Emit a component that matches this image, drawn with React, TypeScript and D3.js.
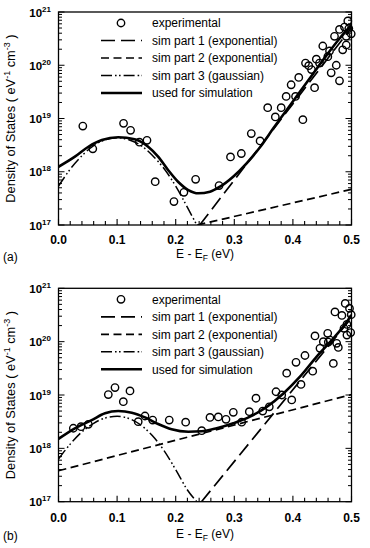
import React from 'react';
import * as d3 from 'd3';

const W = 370;
const H = 548;
const FONT = '"Liberation Sans", Arial, Helvetica, sans-serif';

const energyTicks = [0, 0.1, 0.2, 0.3, 0.4, 0.5];
const energyMinorTicks = [0.02, 0.04, 0.06, 0.08, 0.12, 0.14, 0.16, 0.18, 0.22, 0.24, 0.26, 0.28, 0.32, 0.34, 0.36, 0.38, 0.42, 0.44, 0.46, 0.48];
const decadeExponents = [17, 18, 19, 20, 21];
const legendLabels = [
  'experimental',
  'sim part 1 (exponential)',
  'sim part 2 (exponential)',
  'sim part 3 (gaussian)',
  'used for simulation',
];

// ---- panel (a) ----
const expEnergyA = [0.0415, 0.0585, 0.111, 0.123, 0.138, 0.151, 0.165, 0.197, 0.214, 0.234, 0.274, 0.2935, 0.312, 0.329, 0.344, 0.357, 0.37, 0.38, 0.3885, 0.397, 0.4045, 0.41, 0.417, 0.4215, 0.427, 0.4317, 0.437, 0.44, 0.4454, 0.451, 0.4596, 0.4625, 0.4653, 0.471, 0.474, 0.4795, 0.4795, 0.485, 0.488, 0.491, 0.4937, 0.4954, 0.4995, 0.491];
const expDosA = [7.2e18, 2.7e18, 8.1e18, 6.0e18, 3.6e18, 3.9e18, 6.5e17, 2.75e17, 4.1e17, 7.2e17, 5.5e17, 1.9e18, 2.2e18, 5.2e18, 3.8e18, 1.6e19, 1.07e19, 1.6e19, 2.6e19, 4.3e19, 2.6e19, 5.9e19, 9.5e18, 1.1e20, 9.8e19, 8.3e19, 3.8e19, 1.3e20, 1.1e20, 2.3e20, 1.45e20, 1.85e20, 7.2e19, 3.5e20, 1.0e20, 5.1e19, 4.7e20, 1.95e20, 5.2e20, 3.5e20, 6.8e20, 4.9e20, 3.9e20, 2.4e20];

const part1EnergyA = [0.241, 0.5];
const part1DosA = [1e17, 5.1e20];
const part2EnergyA = [0.237, 0.5];
const part2DosA = [1e17, 4.68e17];
const part3EnergyA = [0, 0.02, 0.04, 0.06, 0.08, 0.1, 0.12, 0.14, 0.16, 0.18, 0.2, 0.22, 0.236];
const part3DosA = [5.37e17, 1.12e18, 2.0e18, 3.09e18, 3.98e18, 4.37e18, 3.98e18, 3.16e18, 2.04e18, 1.15e18, 5.37e17, 2.14e17, 1.0e17];
const simEnergyA = [0, 0.028, 0.051, 0.074, 0.102, 0.13, 0.153, 0.17, 0.187, 0.204, 0.2215, 0.2386, 0.2585, 0.2756, 0.298, 0.321, 0.3445, 0.3666, 0.3894, 0.412, 0.435, 0.4577, 0.48, 0.5];
const simDosA = [1.24e18, 1.92e18, 2.95e18, 3.94e18, 4.44e18, 4.07e18, 2.95e18, 1.92e18, 1.08e18, 6.5e17, 4.54e17, 3.94e17, 4.22e17, 5.24e17, 8.07e17, 1.44e18, 2.95e18, 6.55e18, 1.45e19, 3.18e19, 7.06e19, 1.55e20, 3.21e20, 5.7e20];

// ---- panel (b) ----
const expEnergyB = [0.0253, 0.0384, 0.0509, 0.085, 0.0964, 0.1106, 0.122, 0.136, 0.1476, 0.1607, 0.189, 0.217, 0.2444, 0.2585, 0.2727, 0.2858, 0.2983, 0.3126, 0.3256, 0.337, 0.3485, 0.3597, 0.3712, 0.3809, 0.3894, 0.398, 0.4053, 0.4138, 0.4206, 0.4338, 0.4377, 0.4462, 0.4519, 0.4594, 0.4604, 0.4633, 0.469, 0.4718, 0.4747, 0.4775, 0.4836, 0.4872, 0.4893, 0.4922, 0.4922, 0.4966, 0.4986, 0.4995];
const expDosB = [2.38e18, 2.55e18, 2.82e18, 1.02e19, 1.38e19, 7.5e18, 1.19e19, 3.16e18, 4.04e18, 3.39e18, 3.39e18, 3.09e18, 2.14e18, 3.8e18, 3.89e18, 3.5e18, 4.74e18, 3.09e18, 4.86e18, 8.7e18, 5.0e18, 6.0e18, 1.15e19, 1.0e19, 2.57e19, 8.1e18, 4.1e19, 1.58e19, 5.5e19, 2.8e19, 1.28e20, 7.5e19, 1.0e20, 1.43e20, 9.8e19, 1.07e20, 3.9e19, 3.6e20, 9.3e19, 7.8e19, 3.1e20, 1.78e20, 5.2e20, 2.1e20, 1.33e20, 4.2e20, 1.48e20, 3.2e20];

const part1EnergyB = [0.244, 0.5];
const part1DosB = [1e17, 2.8e20];
const part2EnergyB = [0, 0.5];
const part2DosB = [3.8e17, 1.02e19];
const part3EnergyB = [0, 0.02, 0.04, 0.06, 0.08, 0.1, 0.12, 0.14, 0.16, 0.18, 0.2, 0.22, 0.236];
const part3DosB = [6.31e17, 1.2e18, 2.04e18, 2.95e18, 3.72e18, 3.98e18, 3.63e18, 2.75e18, 1.74e18, 9.1e17, 3.98e17, 1.66e17, 1.0e17];
const simEnergyB = [0, 0.028, 0.0567, 0.0794, 0.102, 0.125, 0.1476, 0.17, 0.193, 0.2215, 0.2444, 0.27, 0.2983, 0.3268, 0.3553, 0.3838, 0.4121, 0.4406, 0.4693, 0.4922, 0.5];
const simDosB = [1.51e18, 2.38e18, 3.39e18, 4.54e18, 5.0e18, 4.66e18, 3.8e18, 2.86e18, 2.28e18, 2.05e18, 2.09e18, 2.38e18, 2.95e18, 3.92e18, 6.0e18, 1.07e19, 2.2e19, 5.25e19, 1.16e20, 2.37e20, 3.16e20];

type Series = { e: number[]; n: number[] };

const STYLES = {
  part1: { dash: '14,6', width: 1.7 },
  part2: { dash: '8,4.5', width: 1.7 },
  part3: { dash: '11,3,1.6,2.4,1.6,3', width: 1.5 },
  sim: { dash: undefined as string | undefined, width: 2.6 },
};

const LEFT = 58.5;
const RIGHT = 351.5;

interface PanelProps {
  id: string;
  top: number;
  bottom: number;
  tag: string;
  tickBaseline: number;
  titleBaseline: number;
  tagBaseline: number;
  exp: Series;
  part1: Series;
  part2: Series;
  part3: Series;
  sim: Series;
}

function Panel(p: PanelProps) {
  const x = d3.scaleLinear().domain([0, 0.5]).range([LEFT, RIGHT]);
  const y = d3.scaleLog().domain([1e17, 1e21]).range([p.bottom, p.top]);
  const clipId = `clip-${p.id}`;

  const pathOf = (s: Series, smooth: boolean) => {
    const pts = s.e.map((e, i) => [e, s.n[i]] as [number, number]);
    const line = d3
      .line<[number, number]>()
      .x((d) => x(d[0]))
      .y((d) => y(d[1]))
      .curve(smooth ? d3.curveMonotoneX : d3.curveLinear);
    return line(pts) || '';
  };

  const minorY: number[] = [];
  for (const d of decadeExponents.slice(0, -1)) {
    for (let m = 2; m <= 9; m++) minorY.push(m * Math.pow(10, d));
  }

  const legendRows = legendLabels.map((label, i) => ({ label, cy: p.top + 11 + i * 17.5 }));
  const legendKeys = ['exp', 'part1', 'part2', 'part3', 'sim'];
  const midY = (p.top + p.bottom) / 2;

  return (
    <g>
      <defs>
        <clipPath id={clipId}>
          <rect x={LEFT} y={p.top} width={RIGHT - LEFT} height={p.bottom - p.top} />
        </clipPath>
      </defs>

      {/* fitted components and simulation curve */}
      <g clipPath={`url(#${clipId})`} fill="none" stroke="#000">
        <path d={pathOf(p.part2, false)} strokeWidth={STYLES.part2.width} strokeDasharray={STYLES.part2.dash} />
        <path d={pathOf(p.part1, false)} strokeWidth={STYLES.part1.width} strokeDasharray={STYLES.part1.dash} />
        <path d={pathOf(p.part3, true)} strokeWidth={STYLES.part3.width} strokeDasharray={STYLES.part3.dash} />
        <path d={pathOf(p.sim, true)} strokeWidth={STYLES.sim.width} strokeLinejoin="round" />
      </g>

      {/* measured points */}
      <g fill="none" stroke="#000" strokeWidth={1.4}>
        {p.exp.e.map((e, i) => (
          <circle key={i} cx={x(e)} cy={y(p.exp.n[i])} r={3.7} />
        ))}
      </g>

      {/* frame */}
      <rect x={LEFT} y={p.top} width={RIGHT - LEFT} height={p.bottom - p.top} fill="none" stroke="#000" strokeWidth={1.3} />

      {/* x ticks (inward) */}
      <g stroke="#000" strokeWidth={1.1}>
        {energyTicks.map((t) => (
          <line key={`M${t}`} x1={x(t)} x2={x(t)} y1={p.bottom} y2={p.bottom - 6} />
        ))}
        {energyMinorTicks.map((t) => (
          <line key={`m${t}`} x1={x(t)} x2={x(t)} y1={p.bottom} y2={p.bottom - 4} />
        ))}
      </g>

      {/* y ticks on both sides (inward) */}
      <g stroke="#000" strokeWidth={1}>
        {decadeExponents.map((d) => (
          <g key={`D${d}`}>
            <line x1={LEFT} x2={LEFT + 6} y1={y(Math.pow(10, d))} y2={y(Math.pow(10, d))} />
            <line x1={RIGHT} x2={RIGHT - 6} y1={y(Math.pow(10, d))} y2={y(Math.pow(10, d))} />
          </g>
        ))}
        {minorY.map((v, i) => (
          <g key={`d${i}`}>
            <line x1={LEFT} x2={LEFT + 3.5} y1={y(v)} y2={y(v)} />
            <line x1={RIGHT} x2={RIGHT - 3.5} y1={y(v)} y2={y(v)} />
          </g>
        ))}
      </g>

      {/* x tick labels */}
      <g fontFamily={FONT} fontSize={12} fontWeight="bold" textAnchor="middle" fill="#000">
        {energyTicks.map((t) => (
          <text key={t} x={x(t)} y={p.tickBaseline}>
            {d3.format('.1f')(t)}
          </text>
        ))}
      </g>

      {/* y tick labels */}
      <g fontFamily={FONT} fill="#000" fontWeight="bold">
        {decadeExponents.map((d) => (
          <text key={d} x={LEFT - 7.5} y={y(Math.pow(10, d)) + 4.5} textAnchor="end" fontSize={11.5}>
            10
            <tspan dy={-5} fontSize={8}>
              {d}
            </tspan>
          </text>
        ))}
      </g>

      {/* axis titles */}
      <text x={205} y={p.titleBaseline} fontFamily={FONT} fontSize={12} textAnchor="middle" fill="#000">
        E - E<tspan dy={3} fontSize={8.5}>F</tspan>
        <tspan dy={-3}> (eV)</tspan>
      </text>
      <text
        transform={`translate(14.5, ${midY}) rotate(-90)`}
        fontFamily={FONT}
        fontSize={12.8}
        textAnchor="middle"
        fill="#000"
      >
        Density of States ( eV<tspan dy={-5} fontSize={9}>-1</tspan>
        <tspan dy={5}> cm</tspan>
        <tspan dy={-5} fontSize={9}>-3</tspan>
        <tspan dy={5}> )</tspan>
      </text>
      <text x={3} y={p.tagBaseline} fontFamily={FONT} fontSize={12} fill="#000">
        {p.tag}
      </text>

      {/* legend */}
      <g>
        {legendRows.map((row, i) => {
          const key = legendKeys[i];
          return (
            <g key={row.label}>
              {key === 'exp' ? (
                <circle cx={121} cy={row.cy} r={3.7} fill="none" stroke="#000" strokeWidth={1.4} />
              ) : (
                <line
                  x1={101}
                  x2={142}
                  y1={row.cy}
                  y2={row.cy}
                  stroke="#000"
                  strokeWidth={(STYLES as any)[key].width}
                  strokeDasharray={(STYLES as any)[key].dash}
                />
              )}
              <text x={152} y={row.cy + 4.3} fontFamily={FONT} fontSize={12} fill="#000">
                {row.label}
              </text>
            </g>
          );
        })}
      </g>
    </g>
  );
}

export default function App() {
  return (
    <svg
      width={W}
      height={H}
      viewBox={`0 0 ${W} ${H}`}
      style={{ position: 'absolute', left: 0, top: 0, background: '#fff' }}
    >
      <rect width={W} height={H} fill="#fff" />
      <Panel
        id="a"
        top={12}
        bottom={225}
        tag="(a)"
        tickBaseline={243.5}
        titleBaseline={257.5}
        tagBaseline={261}
        exp={{ e: expEnergyA, n: expDosA }}
        part1={{ e: part1EnergyA, n: part1DosA }}
        part2={{ e: part2EnergyA, n: part2DosA }}
        part3={{ e: part3EnergyA, n: part3DosA }}
        sim={{ e: simEnergyA, n: simDosA }}
      />
      <Panel
        id="b"
        top={288.3}
        bottom={501.7}
        tag="(b)"
        tickBaseline={521.7}
        titleBaseline={537.5}
        tagBaseline={540}
        exp={{ e: expEnergyB, n: expDosB }}
        part1={{ e: part1EnergyB, n: part1DosB }}
        part2={{ e: part2EnergyB, n: part2DosB }}
        part3={{ e: part3EnergyB, n: part3DosB }}
        sim={{ e: simEnergyB, n: simDosB }}
      />
    </svg>
  );
}
